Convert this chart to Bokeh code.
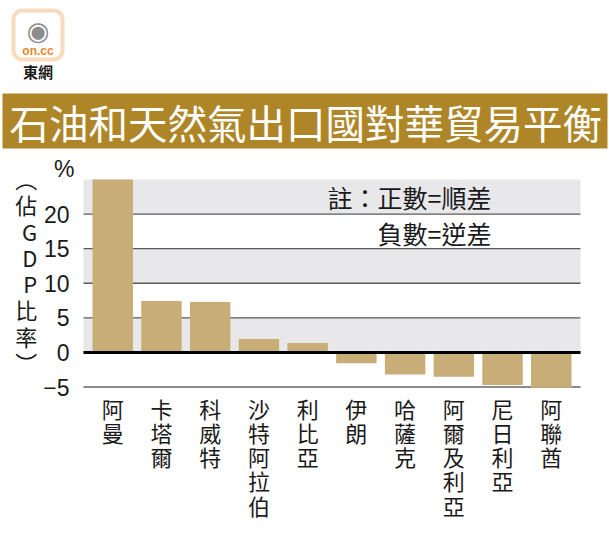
from bokeh.plotting import figure
from bokeh.models import (FixedTicker, BoxAnnotation, Label, Range1d, ColumnDataSource,
                          LinearAxis)
from bokeh.embed import file_html
from bokeh.resources import INLINE

# ---------------- data ----------------
countries = ["阿曼", "卡塔爾", "科威特", "沙特阿拉伯", "利比亞",
             "伊朗", "哈薩克", "阿爾及利亞", "尼日利亞", "阿聯酋"]
values = [25.0, 7.45, 7.3, 1.93, 1.36, -1.55, -3.2, -3.5, -4.7, -5.1]
y_ticks = [-5, 0, 5, 10, 15, 20]
grid_ticks = [5, 10, 15, 20]
title_text = "石油和天然氣出口國對華貿易平衡"
y_unit = "%"
y_label = "︵佔GDP比率︶"
note_lines = ["註：正數=順差", "負數=逆差"]
band_pairs = [(0, 5), (10, 15), (20, 25)]

CJK = "Noto Sans CJK TC"
BAR = "#C8AE76"
GOLD = "#AE8628"
TXT = "#1a1a1a"

# ---------------- layout ----------------
W, H = 609, 539
PL, PR, PT, PB = 83, 580, 179, 390          # plot area in canvas pixels
XLO, XHI = -0.6, len(countries) - 1 + 0.6    # data extent of plot area
YLO, YHI = -5.5, 25.0
kx = (PR - PL) / (XHI - XLO)
ky = (PB - PT) / (YHI - YLO)
x_range = Range1d(XLO - PL / kx, XHI + (W - PR) / kx)
y_range = Range1d(YLO - (H - PB) / ky, YHI + PT / ky)

p = figure(width=W, height=H, output_backend="svg", toolbar_location=None,
           x_range=x_range, y_range=y_range,
           x_axis_location=None, y_axis_location=None,
           min_border=0, outline_line_color=None,
           background_fill_color="white", border_fill_color="white")
p.xgrid.visible = False
p.ygrid.visible = False

# bands
for lo, hi in band_pairs:
    p.add_layout(BoxAnnotation(bottom=lo, top=hi, left=XLO, right=XHI,
                               fill_color="#E8E8EB", fill_alpha=1,
                               line_color=None, level="image"))

# grid lines
p.segment(x0=[XLO] * len(grid_ticks), x1=[XHI] * len(grid_ticks),
          y0=grid_ticks, y1=grid_ticks, line_color="#5a5a5a", line_width=1.3)
p.segment(x0=[XLO], x1=[XHI], y0=[-5], y1=[-5], line_color="#8a8a8a", line_width=2)

src = ColumnDataSource(dict(x=list(range(len(countries))), top=values))
p.vbar(x="x", top="top", bottom=0, width=0.83, source=src,
       fill_color=BAR, line_color=None)

p.segment(x0=[XLO], x1=[XHI], y0=[0], y1=[0], line_color="black", line_width=3)

# y axis
yax = LinearAxis(fixed_location=XLO, ticker=FixedTicker(ticks=y_ticks))
yax.axis_line_color = None
yax.major_tick_line_color = None
yax.minor_tick_line_color = None
yax.major_label_text_font = "Liberation Sans"
yax.major_label_text_font_size = "23px"
yax.major_label_text_color = TXT
yax.major_label_standoff = 8
yax.axis_label = "\n".join(y_label)
yax.axis_label_orientation = "horizontal"
yax.axis_label_text_font = CJK
yax.axis_label_text_font_size = "22px"
yax.axis_label_text_font_style = "normal"
yax.axis_label_text_color = TXT
yax.axis_label_text_line_height = 0.82
yax.axis_label_standoff = 3
p.add_layout(yax, "left")

# x axis
xax = LinearAxis(fixed_location=YLO, ticker=FixedTicker(ticks=list(range(len(countries)))))
xax.major_label_overrides = {i: "\n".join(c) for i, c in enumerate(countries)}
xax.axis_line_color = None
xax.major_tick_line_color = None
xax.minor_tick_line_color = None
xax.major_label_text_font = CJK
xax.major_label_text_font_size = "22px"
xax.major_label_text_color = TXT
xax.major_label_text_line_height = 0.76
xax.major_label_standoff = -5
p.add_layout(xax, "below")


def sy(Y):
    return H - Y


# note
p.add_layout(Label(x=491, y=sy(196), x_units="screen", y_units="screen",
                   text=note_lines[0], text_font=CJK, text_font_size="25px",
                   text_align="right", text_baseline="middle", text_color=TXT))
p.add_layout(Label(x=491, y=sy(232), x_units="screen", y_units="screen",
                   text=note_lines[1], text_font=CJK, text_font_size="25px",
                   text_align="right", text_baseline="middle", text_color=TXT))

# % unit
p.add_layout(Label(x=74, y=sy(168), x_units="screen", y_units="screen",
                   text=y_unit, text_font="Liberation Sans", text_font_size="23px",
                   text_align="right", text_baseline="middle", text_color=TXT))

# banner
p.add_layout(BoxAnnotation(left=2, right=607, top=sy(93), bottom=sy(148),
                           left_units="screen", right_units="screen",
                           top_units="screen", bottom_units="screen",
                           fill_color=GOLD, fill_alpha=1, line_color=None))
p.add_layout(Label(x=9, y=sy(121), x_units="screen", y_units="screen",
                   text=title_text, text_font=CJK, text_font_size="39.5px",
                   text_align="left", text_baseline="middle", text_color="white"))

# logo
p.add_layout(BoxAnnotation(left=13, right=62, top=sy(10), bottom=sy(59),
                           left_units="screen", right_units="screen",
                           top_units="screen", bottom_units="screen",
                           fill_color="white", fill_alpha=1, line_color="#E8842C",
                           line_width=4, border_radius=9))
p.add_layout(Label(x=37.5, y=sy(30), x_units="screen", y_units="screen",
                   text="◉", text_font="DejaVu Sans", text_font_size="26px",
                   text_align="center", text_baseline="middle", text_color="#8c8c8c"))
p.add_layout(Label(x=37.5, y=sy(50), x_units="screen", y_units="screen",
                   text="on.cc", text_font="Liberation Sans", text_font_size="12px",
                   text_font_style="bold",
                   text_align="center", text_baseline="middle", text_color="#E8842C"))
p.add_layout(Label(x=37.5, y=sy(71), x_units="screen", y_units="screen",
                   text="東網", text_font=CJK, text_font_size="15px",
                   text_font_style="bold",
                   text_align="center", text_baseline="middle", text_color=TXT))

open("out.html", "w").write(file_html(p, INLINE))
